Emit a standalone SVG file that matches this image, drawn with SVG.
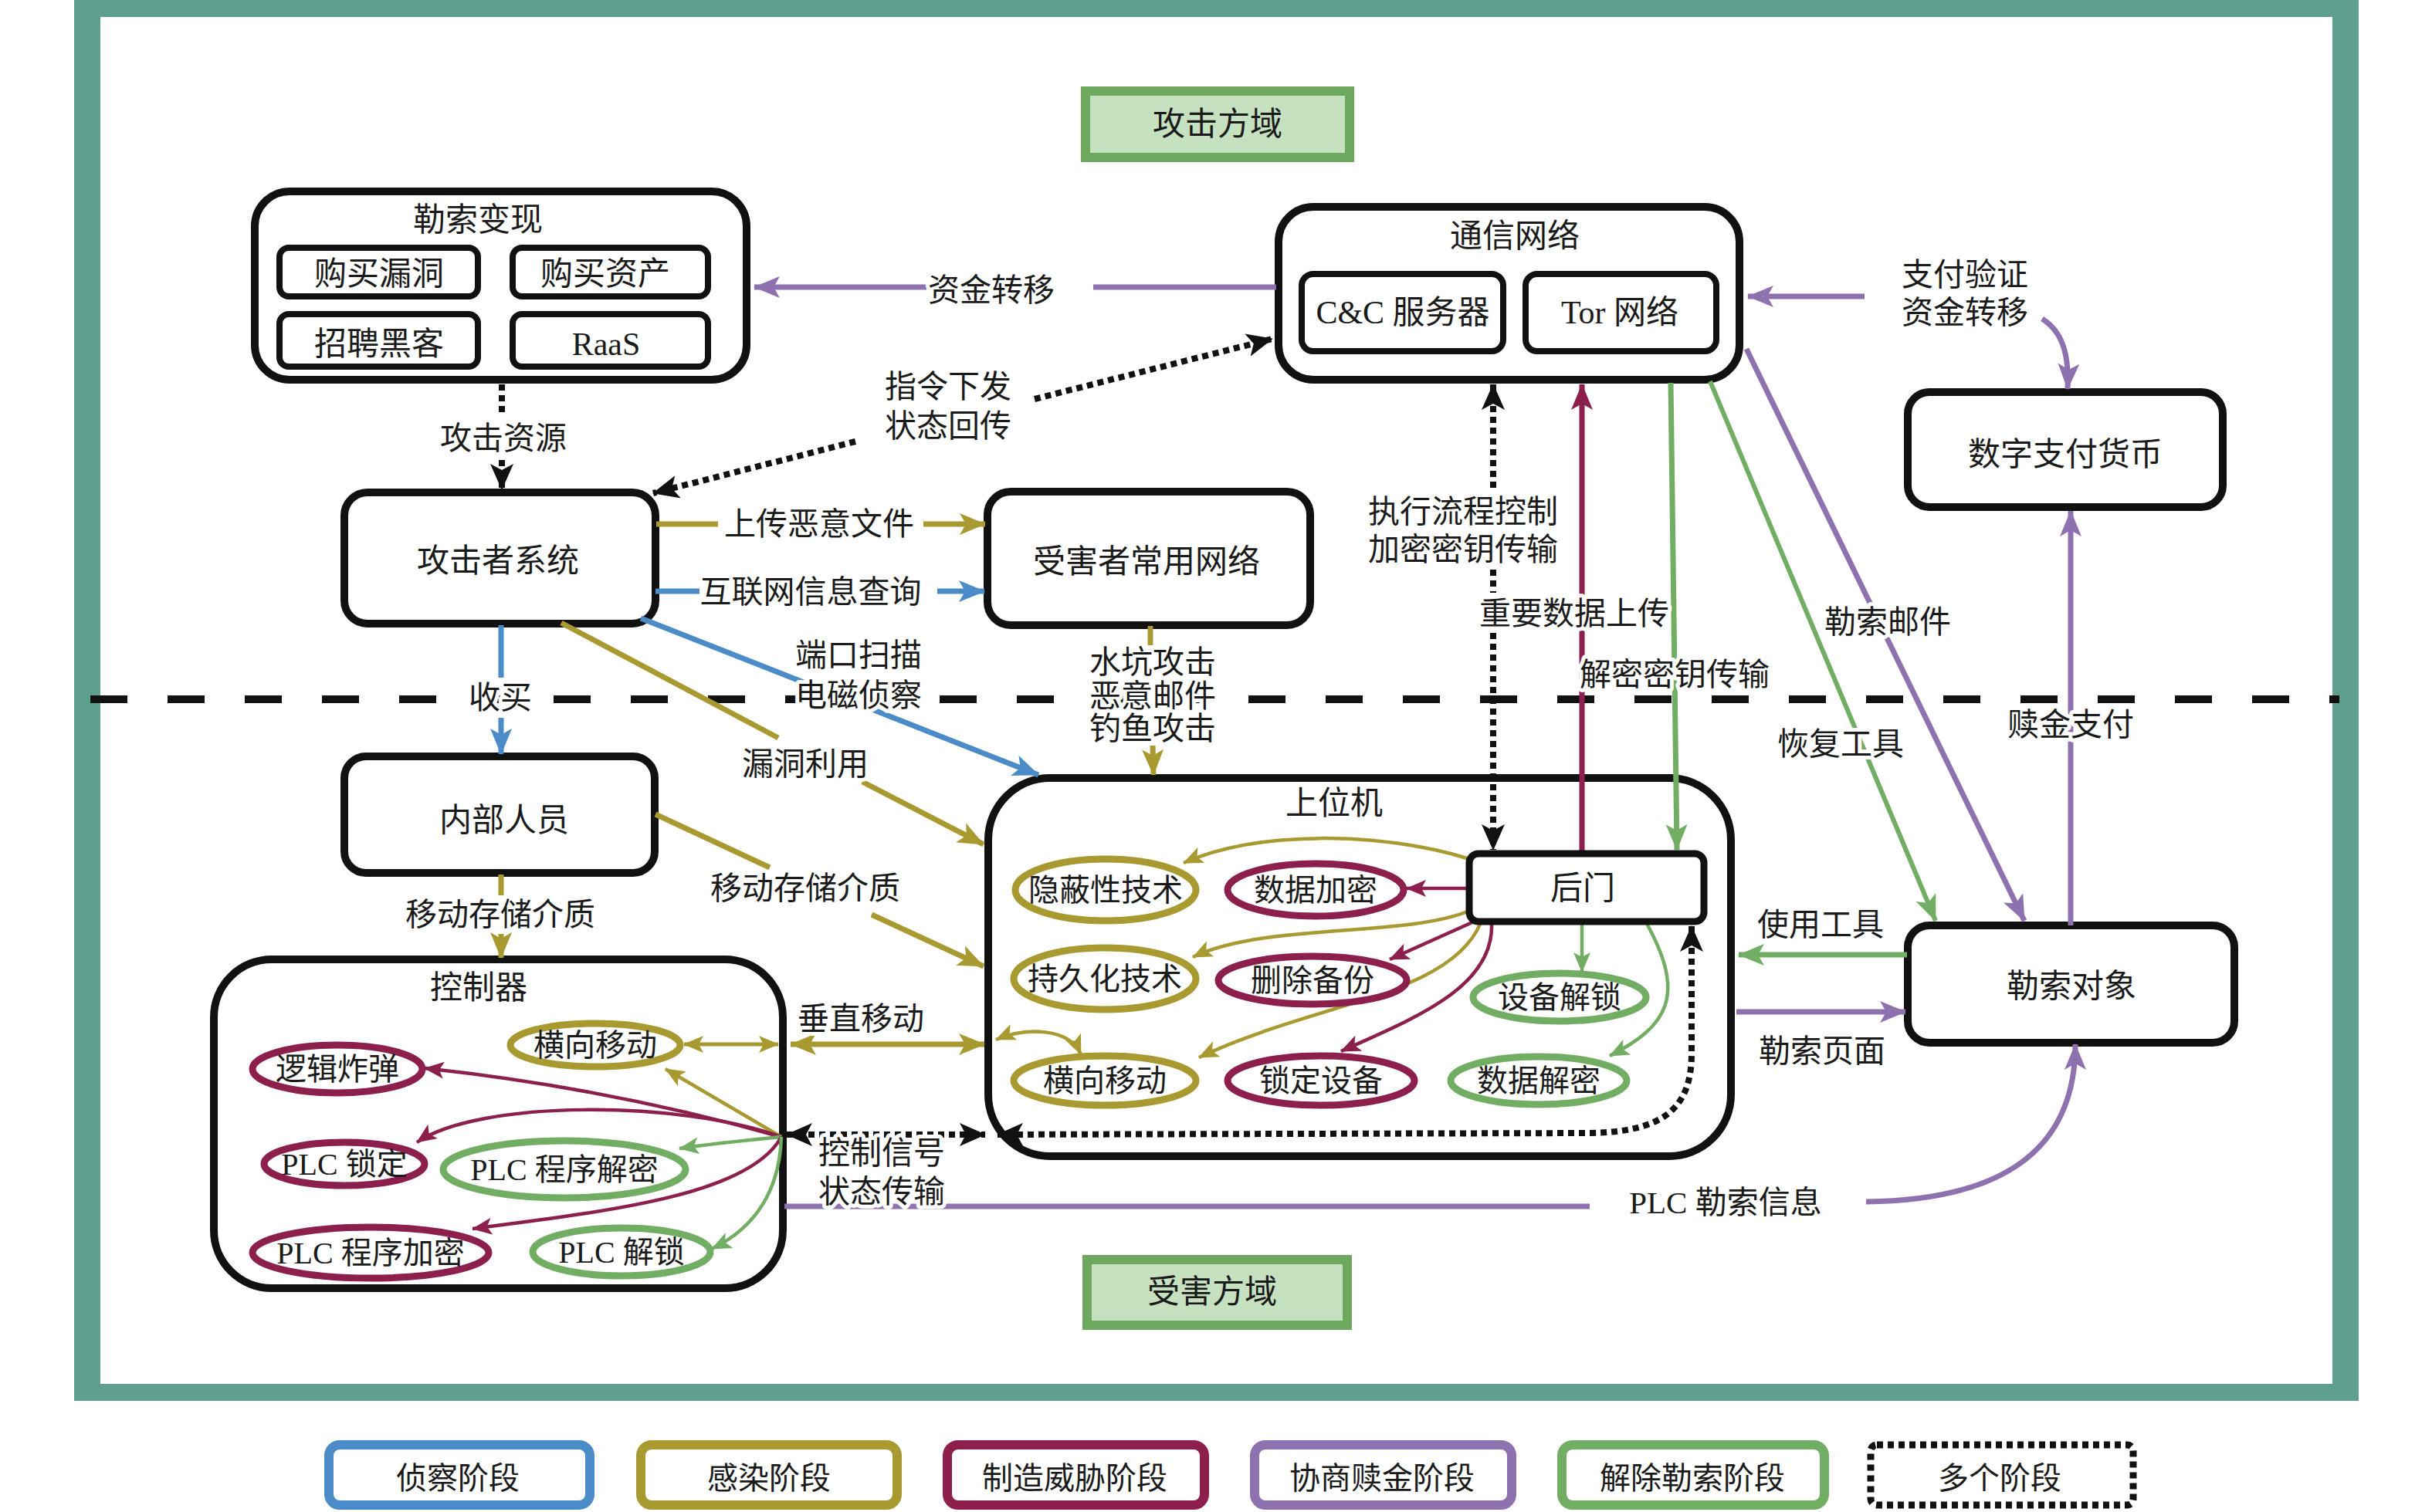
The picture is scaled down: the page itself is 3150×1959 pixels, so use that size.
<svg xmlns="http://www.w3.org/2000/svg" width="3150" height="1959" viewBox="0 0 3150 1959">
<style>
.t{font-family:"Liberation Serif","Noto Sans CJK SC",serif;font-size:41px;fill:#1a1a1a;text-anchor:middle;dominant-baseline:central}
.nt{font-size:42px}
.et{font-size:40px}
.h{stroke:#fff;stroke-width:10px;stroke-linejoin:round;paint-order:stroke}
.n{fill:#fff;stroke:#111;stroke-width:10}
.ni{fill:#fff;stroke:#111;stroke-width:8}
.eg{fill:#fff;stroke:#A89A30;stroke-width:9}
.ec{fill:#fff;stroke:#8C1F4B;stroke-width:9}
.en{fill:#fff;stroke:#71AD62;stroke-width:9}
.c{fill:none;stroke-width:7}
.ci{fill:none;stroke-width:4.5}
.pu{stroke:#8E72B0}.gr{stroke:#71AD62}.cr{stroke:#8C1F4B}.go{stroke:#A89A30}.bl{stroke:#4A8BC8}
.dot{fill:none;stroke:#111;stroke-width:8;stroke-dasharray:8 6}
.dom{fill:#C6E1BF;stroke:#6DA85E;stroke-width:12}
.lg{fill:#fff;stroke-width:12}
</style>
<defs>
<marker id="aPu" viewBox="0 0 34 28" refX="33" refY="14" markerWidth="34" markerHeight="28" markerUnits="userSpaceOnUse" orient="auto-start-reverse"><path d="M0,0 L34,14 L0,28 L8,14 z" fill="#8E72B0"/></marker>
<marker id="aGr" viewBox="0 0 34 28" refX="33" refY="14" markerWidth="34" markerHeight="28" markerUnits="userSpaceOnUse" orient="auto-start-reverse"><path d="M0,0 L34,14 L0,28 L8,14 z" fill="#71AD62"/></marker>
<marker id="aCr" viewBox="0 0 34 28" refX="33" refY="14" markerWidth="34" markerHeight="28" markerUnits="userSpaceOnUse" orient="auto-start-reverse"><path d="M0,0 L34,14 L0,28 L8,14 z" fill="#8C1F4B"/></marker>
<marker id="aGo" viewBox="0 0 34 28" refX="33" refY="14" markerWidth="34" markerHeight="28" markerUnits="userSpaceOnUse" orient="auto-start-reverse"><path d="M0,0 L34,14 L0,28 L8,14 z" fill="#A89A30"/></marker>
<marker id="aBl" viewBox="0 0 34 28" refX="33" refY="14" markerWidth="34" markerHeight="28" markerUnits="userSpaceOnUse" orient="auto-start-reverse"><path d="M0,0 L34,14 L0,28 L8,14 z" fill="#4A8BC8"/></marker>
<marker id="aBk" viewBox="0 0 34 30" refX="33" refY="15" markerWidth="34" markerHeight="30" markerUnits="userSpaceOnUse" orient="auto-start-reverse"><path d="M0,0 L34,15 L0,30 L8,15 z" fill="#111"/></marker>
<marker id="sGo" viewBox="0 0 26 22" refX="25" refY="11" markerWidth="26" markerHeight="22" markerUnits="userSpaceOnUse" orient="auto-start-reverse"><path d="M0,0 L26,11 L0,22 L6,11 z" fill="#A89A30"/></marker>
<marker id="sCr" viewBox="0 0 26 22" refX="25" refY="11" markerWidth="26" markerHeight="22" markerUnits="userSpaceOnUse" orient="auto-start-reverse"><path d="M0,0 L26,11 L0,22 L6,11 z" fill="#8C1F4B"/></marker>
<marker id="sGr" viewBox="0 0 26 22" refX="25" refY="11" markerWidth="26" markerHeight="22" markerUnits="userSpaceOnUse" orient="auto-start-reverse"><path d="M0,0 L26,11 L0,22 L6,11 z" fill="#71AD62"/></marker>
</defs>
<rect x="0" y="0" width="3150" height="1959" fill="#fff"/>
<g id="frame">
<path d="M96,0 H3055 V1815 H96 Z M130,22 V1793 H3021 V22 Z" fill="#5F9F8E" fill-rule="evenodd"/>
<line x1="117" y1="906" x2="3030" y2="906" stroke="#111" stroke-width="10" stroke-dasharray="48 52"/>
</g>
<g id="attack-domain"><rect class="dom" x="1406" y="118" width="342" height="86"/><text class="t nt" x="1577" y="161">攻击方域</text></g>
<g id="victim-domain"><rect class="dom" x="1408" y="1632" width="337" height="85"/><text class="t nt" x="1570" y="1674">受害方域</text></g>

<g id="monetize"><rect class="n" x="330" y="248" width="637" height="244" rx="45"/><text class="t nt" x="619" y="285">勒索变现</text>
<rect class="ni" x="362" y="321" width="257" height="63" rx="12"/><text class="t nt" x="491" y="355">购买漏洞</text>
<rect class="ni" x="664" y="321" width="253" height="63" rx="12"/><text class="t nt" x="784" y="355">购买资产</text>
<rect class="ni" x="362" y="407" width="257" height="68" rx="12"/><text class="t nt" x="491" y="446">招聘黑客</text>
<rect class="ni" x="664" y="407" width="253" height="68" rx="12"/><text class="t nt" x="785" y="446">RaaS</text></g>
<g id="comm-net"><rect class="n" x="1656" y="268" width="597" height="224" rx="45"/><text class="t nt" x="1962" y="306">通信网络</text>
<rect class="ni" x="1686" y="355" width="261" height="100" rx="15"/><text class="t nt" x="1817" y="405">C&amp;C 服务器</text>
<rect class="ni" x="1976" y="355" width="247" height="100" rx="15"/><text class="t nt" x="2098" y="405">Tor 网络</text></g>
<g id="crypto"><rect class="n" x="2471" y="508" width="408" height="149" rx="28"/><text class="t nt" x="2675" y="589">数字支付货币</text></g>
<g id="attacker"><rect class="n" x="446" y="638" width="403" height="170" rx="30"/><text class="t nt" x="645" y="727">攻击者系统</text></g>
<g id="victim-net"><rect class="n" x="1279" y="637" width="418" height="173" rx="30"/><text class="t nt" x="1485" y="728">受害者常用网络</text></g>
<g id="insider"><rect class="n" x="446" y="980" width="402" height="151" rx="28"/><text class="t nt" x="653" y="1063">内部人员</text></g>
<g id="hmi"><rect class="n" x="1280" y="1008" width="962" height="490" rx="80"/><text class="t nt" x="1728" y="1041">上位机</text></g>
<g id="plc"><rect class="n" x="277" y="1243" width="737" height="426" rx="75"/><text class="t nt" x="620" y="1280">控制器</text></g>
<g id="target"><rect class="n" x="2471" y="1199" width="423" height="152" rx="28"/><text class="t nt" x="2683" y="1278">勒索对象</text></g>

<g id="connectors">
<path class="c pu" d="M1653,372 L1416,372"/>
<path class="c pu" d="M1200,372 L977,372" marker-end="url(#aPu)"/>
<path class="c pu" d="M2415,384 L2264,384" marker-end="url(#aPu)"/>
<path class="c pu" d="M2645,413 C2672,430 2680,460 2678,504" marker-end="url(#aPu)"/>
<path class="c pu" d="M2262,452 L2622,1193" marker-end="url(#aPu)"/>
<path class="c pu" d="M2682,1199 L2682,662" marker-end="url(#aPu)"/>
<path class="c pu" d="M2249,1311 L2468,1311" marker-end="url(#aPu)"/>
<path class="c pu" d="M1016,1563 L2059,1563"/>
<path class="c pu" d="M2417,1557 C2580,1555 2688,1500 2688,1353" marker-end="url(#aPu)"/>
<path class="c gr" d="M2164,496 L2172,1101" marker-end="url(#aGr)"/>
<path class="c gr" style="stroke-width:6" d="M2215,494 L2507,1193" marker-end="url(#aGr)"/>
<path class="c gr" d="M2470,1237 L2252,1237" marker-end="url(#aGr)"/>
<path class="c cr" d="M2049,1106 L2049,498" marker-end="url(#aCr)"/>
<path class="c go" d="M850,679 L930,679"/>
<path class="c go" d="M1196,679 L1276,679" marker-end="url(#aGo)"/>
<path class="c go" d="M727,807 L1008,956"/>
<path class="c go" d="M1117,1013 L1274,1094" marker-end="url(#aGo)"/>
<path class="c go" d="M849,1055 L997,1124"/>
<path class="c go" d="M1129,1185 L1274,1252" marker-end="url(#aGo)"/>
<path class="c go" d="M649,1133 L649,1160"/>
<path class="c go" d="M649,1210 L649,1241" marker-end="url(#aGo)"/>
<path class="c go" d="M1490,811 L1490,836"/>
<path class="c go" d="M1493,966 L1494,1004" marker-end="url(#aGo)"/>
<path class="c go" d="M1024,1353 L1275,1353" marker-start="url(#aGo)" marker-end="url(#aGo)"/>
<path class="c go" style="stroke-width:5" d="M886,1353 L1008,1353" marker-start="url(#sGo)" marker-end="url(#sGo)"/>
<path class="c bl" d="M849,766 L906,766"/>
<path class="c bl" d="M1214,766 L1275,766" marker-end="url(#aBl)"/>
<path class="c bl" d="M649,810 L649,878"/>
<path class="c bl" d="M649,930 L649,977" marker-end="url(#aBl)"/>
<path class="c bl" d="M830,801 L1345,1004" marker-end="url(#aBl)"/>
<path class="dot" d="M650,498 L650,540"/>
<path class="dot" d="M650,596 L650,634" marker-end="url(#aBk)"/>
<path class="dot" d="M1108,572 L846,639" marker-end="url(#aBk)"/>
<path class="dot" d="M1340,517 L1648,439" marker-end="url(#aBk)"/>
<path class="dot" d="M1934,498 L1934,632 M1934,738 L1934,768 M1934,820 L1934,1101" marker-start="url(#aBk)" marker-end="url(#aBk)"/>
<path class="dot" d="M1019,1470 L1276,1470" marker-start="url(#aBk)" marker-end="url(#aBk)"/>
<path class="dot" d="M2191,1200 L2191,1365 C2191,1440 2150,1466 2060,1468 L1292,1470" marker-start="url(#aBk)" marker-end="url(#aBk)"/>
<path class="ci go" d="M1900,1112 C1790,1078 1630,1075 1533,1118" marker-end="url(#sGo)"/>
<path class="ci cr" d="M1903,1151 L1822,1151" marker-end="url(#sCr)"/>
<path class="ci go" d="M1903,1180 C1820,1215 1640,1195 1545,1240" marker-end="url(#sGo)"/>
<path class="ci cr" d="M1907,1195 L1800,1243" marker-end="url(#sCr)"/>
<path class="ci go" d="M1918,1195 C1880,1290 1700,1300 1553,1370" marker-end="url(#sGo)"/>
<path class="ci cr" d="M1932,1197 C1935,1280 1830,1320 1737,1362" marker-end="url(#sCr)"/>
<path class="ci gr" d="M2049,1195 L2049,1259" marker-end="url(#sGr)"/>
<path class="ci gr" d="M2132,1195 C2185,1290 2160,1330 2085,1368" marker-end="url(#sGr)"/>
<path class="ci go" d="M1290,1347 C1330,1330 1385,1332 1400,1366" marker-start="url(#sGo)" marker-end="url(#sGo)"/>
<path class="ci cr" d="M1012,1473 C860,1430 700,1400 550,1384" marker-end="url(#sCr)"/>
<path class="ci go" d="M1012,1473 L862,1385" marker-end="url(#sGo)"/>
<path class="ci cr" d="M1012,1473 C880,1425 620,1425 540,1480" marker-end="url(#sCr)"/>
<path class="ci gr" d="M1012,1473 C960,1478 920,1482 880,1488" marker-end="url(#sGr)"/>
<path class="ci cr" d="M1012,1473 C970,1550 780,1570 612,1592" marker-end="url(#sCr)"/>
<path class="ci gr" d="M1012,1473 C1010,1540 980,1590 922,1618" marker-end="url(#sGr)"/>
<g id="labels">
<text class="t h" x="1284" y="376">资金转移</text>
<text class="t h" x="2545" y="356">支付验证</text>
<text class="t h" x="2545" y="405">资金转移</text>
<text class="t h" x="652" y="568">攻击资源</text>
<text class="t h" x="1228" y="501">指令下发</text>
<text class="t h" x="1228" y="552">状态回传</text>
<text class="t h" x="1061" y="679">上传恶意文件</text>
<text class="t h" x="1050" y="767">互联网信息查询</text>
<text class="t h" x="1895" y="663">执行流程控制</text>
<text class="t h" x="1895" y="712">加密密钥传输</text>
<text class="t h" x="2039" y="795">重要数据上传</text>
<text class="t h" x="2169" y="874">解密密钥传输</text>
<text class="t h" x="2445" y="806">勒索邮件</text>
<text class="t h" x="1112" y="849">端口扫描</text>
<text class="t h" x="1112" y="901">电磁侦察</text>
<text class="t h" x="1493" y="858">水坑攻击</text>
<text class="t h" x="1493" y="902">恶意邮件</text>
<text class="t h" x="1493" y="944">钓鱼攻击</text>
<text class="t h" x="648" y="904">收买</text>
<text class="t h" x="2384" y="964">恢复工具</text>
<text class="t h" x="2682" y="939">赎金支付</text>
<text class="t h" x="1043" y="990">漏洞利用</text>
<text class="t h" x="1043" y="1151">移动存储介质</text>
<text class="t h" x="648" y="1185">移动存储介质</text>
<text class="t h" x="2358" y="1198">使用工具</text>
<text class="t h" x="2360" y="1362">勒索页面</text>
<text class="t h" x="1115" y="1320">垂直移动</text>
<text class="t h" x="1142" y="1494">控制信号</text>
<text class="t h" x="1142" y="1544">状态传输</text>
<text class="t h" x="2235" y="1558">PLC 勒索信息</text>
</g>
</g>

<g id="backdoor"><rect class="n" style="stroke-width:9" x="1903" y="1106" width="304" height="88" rx="12"/><text class="t nt" x="2050" y="1151">后门</text></g>
<g id="hmi-stealth"><ellipse class="eg" cx="1432" cy="1153" rx="117" ry="40"/><text class="t et" x="1432" y="1153">隐蔽性技术</text></g>
<g id="hmi-encrypt"><ellipse class="ec" cx="1704" cy="1153" rx="114" ry="34"/><text class="t et" x="1704" y="1153">数据加密</text></g>
<g id="hmi-persist"><ellipse class="eg" cx="1431" cy="1268" rx="118" ry="40"/><text class="t et" x="1431" y="1268">持久化技术</text></g>
<g id="hmi-delbackup"><ellipse class="ec" cx="1700" cy="1270" rx="122" ry="31"/><text class="t et" x="1700" y="1270">删除备份</text></g>
<g id="hmi-unlock"><ellipse class="en" cx="2020" cy="1292" rx="112" ry="31"/><text class="t et" x="2020" y="1292">设备解锁</text></g>
<g id="hmi-lateral"><ellipse class="eg" cx="1431" cy="1400" rx="118" ry="32"/><text class="t et" x="1431" y="1400">横向移动</text></g>
<g id="hmi-lock"><ellipse class="ec" cx="1711" cy="1400" rx="121" ry="32"/><text class="t et" x="1711" y="1400">锁定设备</text></g>
<g id="hmi-decrypt"><ellipse class="en" cx="1993" cy="1400" rx="114" ry="31"/><text class="t et" x="1993" y="1400">数据解密</text></g>
<g id="plc-bomb"><ellipse class="ec" cx="437" cy="1385" rx="110" ry="31"/><text class="t et" x="437" y="1385">逻辑炸弹</text></g>
<g id="plc-lateral"><ellipse class="eg" cx="771" cy="1354" rx="110" ry="28"/><text class="t et" x="771" y="1354">横向移动</text></g>
<g id="plc-lock"><ellipse class="ec" cx="446" cy="1508" rx="104" ry="28"/><text class="t et" x="446" y="1508">PLC 锁定</text></g>
<g id="plc-progdec"><ellipse class="en" cx="731" cy="1515" rx="157" ry="37"/><text class="t et" x="731" y="1515">PLC 程序解密</text></g>
<g id="plc-progenc"><ellipse class="ec" cx="480" cy="1623" rx="153" ry="33"/><text class="t et" x="480" y="1623">PLC 程序加密</text></g>
<g id="plc-unlock"><ellipse class="en" cx="805" cy="1622" rx="115" ry="31"/><text class="t et" x="805" y="1622">PLC 解锁</text></g>

<g id="legend">
<g id="lg-recon"><rect class="lg" x="426" y="1872" width="338" height="78" rx="14" stroke="#4A8BC8"/><text class="t et" x="593" y="1915">侦察阶段</text></g>
<g id="lg-infect"><rect class="lg" x="830" y="1872" width="332" height="78" rx="14" stroke="#A89A30"/><text class="t et" x="996" y="1915">感染阶段</text></g>
<g id="lg-threat"><rect class="lg" x="1227" y="1872" width="333" height="78" rx="14" stroke="#8C1F4B"/><text class="t et" x="1392" y="1915">制造威胁阶段</text></g>
<g id="lg-negot"><rect class="lg" x="1625" y="1872" width="333" height="78" rx="14" stroke="#8E72B0"/><text class="t et" x="1790" y="1915">协商赎金阶段</text></g>
<g id="lg-release"><rect class="lg" x="2023" y="1872" width="340" height="78" rx="14" stroke="#71AD62"/><text class="t et" x="2192" y="1915">解除勒索阶段</text></g>
<g id="lg-multi"><rect x="2423" y="1872" width="340" height="78" rx="8" fill="#fff" stroke="#111" stroke-width="9" stroke-dasharray="8 6"/><text class="t et" x="2590" y="1915">多个阶段</text></g>
</g>
</svg>
